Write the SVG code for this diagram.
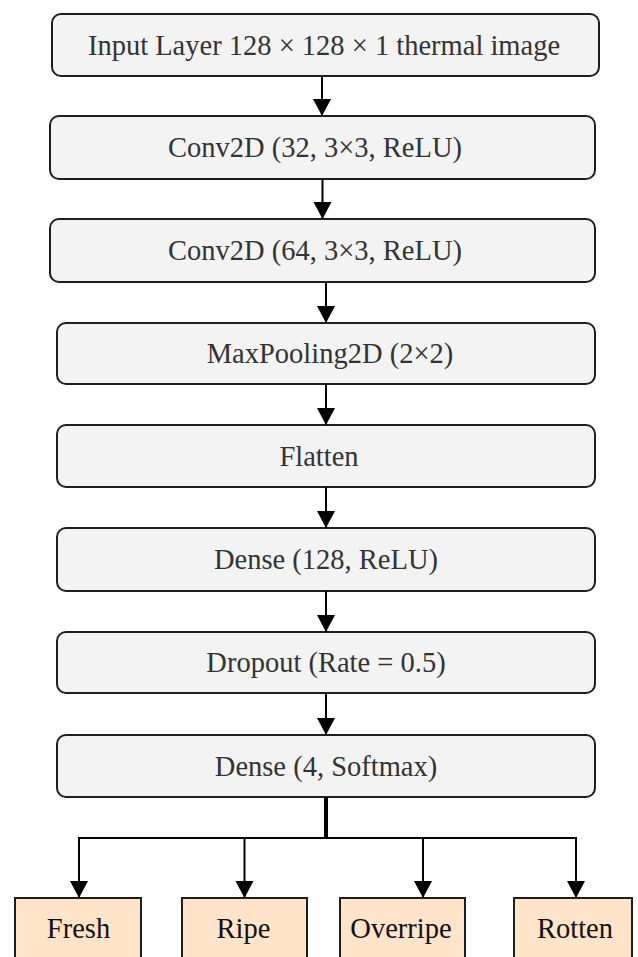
<svg xmlns="http://www.w3.org/2000/svg" width="638" height="957" viewBox="0 0 638 957">
<style>
.layer rect{fill:#f3f3f3;stroke:#1e1e1e;stroke-width:2}
.out rect{fill:#ffe4c9;stroke:#1e1e1e;stroke-width:2}
text{font-family:"Liberation Serif","Times New Roman",serif;font-size:28.5px;text-anchor:middle}
.layer text{fill:#333}
.out text{fill:#111}
.conn line{stroke:#000;stroke-width:2}
</style>
<defs>
<marker id="ah" markerUnits="userSpaceOnUse" markerWidth="20" markerHeight="20" viewBox="0 0 20 20" refX="17" refY="10" orient="auto">
<path d="M0,1 L17,10 L0,19 Z" fill="#000"/>
</marker>
</defs>
<rect width="638" height="957" fill="#fff"/>
<g id="input" class="layer"><rect x="52" y="14" width="547" height="62" rx="9"/><text x="324" y="54.5">Input Layer 128 × 128 × 1 thermal image</text></g>
<g id="conv1" class="layer"><rect x="50" y="116" width="545" height="63" rx="9"/><text x="315" y="157">Conv2D (32, 3×3, ReLU)</text></g>
<g id="conv2" class="layer"><rect x="50" y="219" width="545" height="63" rx="9"/><text x="315" y="260">Conv2D (64, 3×3, ReLU)</text></g>
<g id="pool" class="layer"><rect x="57" y="323" width="538" height="61" rx="9"/><text x="330" y="363">MaxPooling2D (2×2)</text></g>
<g id="flatten" class="layer"><rect x="57" y="425" width="538" height="62" rx="9"/><text x="319" y="465.5">Flatten</text></g>
<g id="dense1" class="layer"><rect x="57" y="528" width="538" height="63" rx="9"/><text x="326" y="569">Dense (128, ReLU)</text></g>
<g id="dropout" class="layer"><rect x="57" y="632" width="538" height="61" rx="9"/><text x="326" y="672">Dropout (Rate = 0.5)</text></g>
<g id="dense2" class="layer"><rect x="57" y="735" width="538" height="62" rx="9"/><text x="326" y="775.5">Dense (4, Softmax)</text></g>
<g id="fresh" class="out"><rect x="15" y="898" width="126" height="80"/><text x="78.5" y="938">Fresh</text></g>
<g id="ripe" class="out"><rect x="182" y="898" width="125" height="80"/><text x="243.5" y="938">Ripe</text></g>
<g id="overripe" class="out"><rect x="340" y="898" width="125" height="80"/><text x="401" y="938">Overripe</text></g>
<g id="rotten" class="out"><rect x="514" y="898" width="118" height="80"/><text x="575" y="938">Rotten</text></g>
<g id="connectors" class="conn">
<line x1="322" y1="76" x2="322" y2="116" marker-end="url(#ah)"/>
<line x1="322.5" y1="179" x2="322.5" y2="219" marker-end="url(#ah)"/>
<line x1="326" y1="282" x2="326" y2="323" marker-end="url(#ah)"/>
<line x1="326" y1="384" x2="326" y2="425" marker-end="url(#ah)"/>
<line x1="326" y1="487" x2="326" y2="528" marker-end="url(#ah)"/>
<line x1="326" y1="591" x2="326" y2="632" marker-end="url(#ah)"/>
<line x1="326" y1="693" x2="326" y2="735" marker-end="url(#ah)"/>
<line x1="326" y1="797" x2="326" y2="839" style="stroke-width:4"/>
<line x1="78" y1="838" x2="577" y2="838"/>
<line x1="79" y1="838" x2="79" y2="898" marker-end="url(#ah)"/>
<line x1="244.5" y1="838" x2="244.5" y2="898" marker-end="url(#ah)"/>
<line x1="423" y1="838" x2="423" y2="898" marker-end="url(#ah)"/>
<line x1="576" y1="838" x2="576" y2="898" marker-end="url(#ah)"/>
</g>
</svg>
